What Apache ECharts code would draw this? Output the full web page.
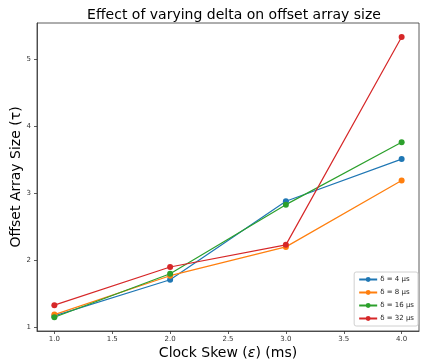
<!DOCTYPE html>
<html><head><meta charset="utf-8">
<script src="https://cdn.jsdelivr.net/npm/echarts@6/dist/echarts.min.js"></script>
<style>html,body{margin:0;padding:0;background:#fff}#c{width:422px;height:363px}</style>
</head><body><div id="c"></div>
<script>
const skew = [1.0, 2.0, 3.0, 4.0];
const d4 = [1.17, 1.71, 2.88, 3.51];
const d8 = [1.19, 1.77, 2.20, 3.19];
const d16 = [1.15, 1.80, 2.83, 3.76];
const d32 = [1.33, 1.90, 2.23, 5.33];
const xTicks = [1.0, 1.5, 2.0, 2.5, 3.0, 3.5, 4.0];
const yTicks = [1, 2, 3, 4, 5];
const names = ['δ = 4 μs', 'δ = 8 μs', 'δ = 16 μs', 'δ = 32 μs'];
const colors = ['#1f77b4', '#ff7f0e', '#2ca02c', '#d62728'];
const seriesData = [d4, d8, d16, d32];

const chart = echarts.init(document.getElementById('c'));
const font = 'DejaVu Sans';
chart.setOption({
  animation: false,
  title: {
    text: 'Effect of varying delta on offset array size',
    left: 229, top: 3, textAlign: 'center',
    textStyle: {fontFamily: font, fontSize: 14, fontWeight: 'normal', color: '#000'}
  },
  grid: {left: 37, right: 3, top: 23, bottom: 32, show: true, borderColor: '#333', borderWidth: 0.8, outerBoundsMode: 'none', containLabel: false},
  legend: {
    orient: 'vertical', right: 4, bottom: 37,
    data: names,
    itemWidth: 18, itemHeight: 6, itemGap: 6,
    padding: [4, 4, 4, 4],
    borderColor: '#d0d0d0', borderWidth: 1, borderRadius: 2,
    textStyle: {fontFamily: font, fontSize: 7, color: '#222', padding: [0, 0, 0, -2]}
  },
  xAxis: {
    type: 'value', min: 0.85, max: 4.15,
    name: 'Clock Skew ({e|ε}) (ms)', nameLocation: 'middle', nameGap: 15, nameMoveOverlap: false,
    nameTextStyle: {fontFamily: font, fontSize: 14, color: '#000', rich: {e: {fontFamily: font, fontSize: 14, fontStyle: 'italic', color: '#000'}}},
    axisLine: {show: true, lineStyle: {color: '#333', width: 0.8}},
    axisTick: {show: true, length: 3, lineStyle: {color: '#333', width: 0.8}, customValues: xTicks},
    axisLabel: {fontFamily: font, fontSize: 7, color: '#333', margin: 5, customValues: xTicks, formatter: v => v.toFixed(1)},
    splitLine: {show: false}
  },
  yAxis: {
    type: 'value', min: 0.945, max: 5.54,
    name: 'Offset Array Size (τ)', nameLocation: 'middle', nameGap: 14, nameMoveOverlap: false,
    nameTextStyle: {fontFamily: font, fontSize: 14, color: '#000'},
    axisLine: {show: true, lineStyle: {color: '#333', width: 0.8}},
    axisTick: {show: true, length: 3, lineStyle: {color: '#333', width: 0.8}, customValues: yTicks},
    axisLabel: {fontFamily: font, fontSize: 7, color: '#333', margin: 6, customValues: yTicks, formatter: v => String(v)},
    splitLine: {show: false}
  },
  series: seriesData.map((d, i) => ({
    name: names[i], type: 'line',
    data: skew.map((x, j) => [x, d[j]]),
    symbol: 'circle', symbolSize: 6,
    itemStyle: {color: colors[i]},
    lineStyle: {color: colors[i], width: 1.2}
  }))
});
</script></body></html>
